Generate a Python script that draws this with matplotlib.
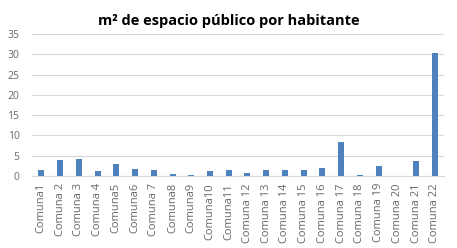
import matplotlib
matplotlib.use("Agg")
import matplotlib.pyplot as plt

# m2 of public space per inhabitant, per comuna
comunas = ["Comuna1", "Comuna 2", "Comuna 3", "Comuna 4", "Comuna5", "Comuna6",
           "Comuna 7", "Comuna8", "Comuna9", "Comuna10", "Comuna11", "Comuna 12",
           "Comuna 13", "Comuna 14", "Comuna 15", "Comuna 16", "Comuna 17",
           "Comuna 18", "Comuna 19", "Comuna 20", "Comuna 21", "Comuna 22"]
valores = [1.5, 3.9, 4.2, 1.2, 3.0, 1.8, 1.5, 0.6, 0.3, 1.2, 1.5, 0.75,
           1.5, 1.5, 1.5, 2.0, 8.4, 0.3, 2.5, 0.0, 3.8, 30.2]
y_ticks = [0, 5, 10, 15, 20, 25, 30, 35]

BAR_COLOR = "#4F81BD"
TEXT_COLOR = "#666666"
GRID_COLOR = "#D9D9D9"

plt.rcParams["font.family"] = ["Open Sans", "DejaVu Sans"]

fig = plt.figure(figsize=(4.57, 2.48), dpi=100)
ax = fig.add_axes([0.07, 0.29, 0.902, 0.573])

x = range(len(comunas))
ax.bar(x, valores, width=0.32, color=BAR_COLOR, zorder=3)

ax.set_ylim(0, 35)
ax.set_xlim(-0.5, len(comunas) - 0.5)
ax.set_yticks(y_ticks)
ax.set_xticks(list(x))
ax.set_xticklabels(comunas, rotation=90, fontsize=8, color=TEXT_COLOR)
ax.tick_params(axis="y", labelsize=7.5, labelcolor=TEXT_COLOR, length=0, pad=9)
ax.tick_params(axis="x", length=0, pad=5)

ax.grid(axis="y", color=GRID_COLOR, linewidth=0.8, zorder=0)
for side in ["top", "right", "left"]:
    ax.spines[side].set_visible(False)
ax.spines["bottom"].set_color(GRID_COLOR)

fig.text(0.5, 0.915, "m² de espacio público por habitante", ha="center",
         va="center", fontsize=10.5, fontweight="bold", color="black")

fig.savefig("out.png", dpi=100)
